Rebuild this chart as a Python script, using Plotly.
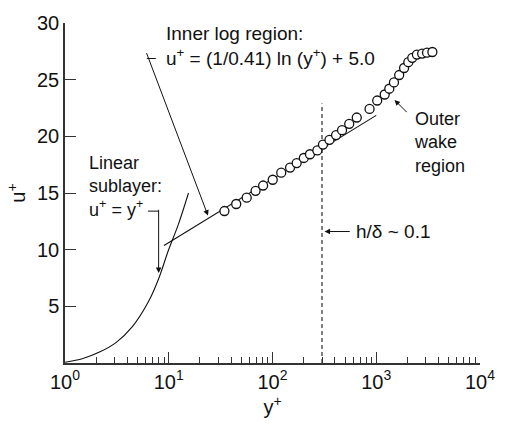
import plotly.graph_objects as go

# ---- data ----
data_yplus = [34.4, 44.7, 56.4, 68.7, 81.2, 100.5, 121.4, 147.7, 171, 200.5, 229.7,
              270.6, 306.5, 354, 410, 468, 549, 649, 862, 1021, 1206, 1336, 1481,
              1663, 1855, 2038, 2224, 2465, 2768, 3088, 3475]
data_uplus = [13.41, 14.03, 14.59, 15.19, 15.66, 16.17, 16.79, 17.24, 17.64, 18.09, 18.42,
              18.76, 19.27, 19.69, 20.11, 20.54, 21.10, 21.66, 22.42, 23.16, 23.69, 24.20, 24.76,
              25.41, 26.03, 26.54, 26.93, 27.21, 27.30, 27.38, 27.44]

# linear sublayer curve (u+ = y+), as drawn in the picture
sub_yplus = [1.0, 1.49, 2.15, 3.10, 4.46, 6.42, 7.99, 9.95, 12.38, 15.5]
sub_uplus = [0.06, 0.40, 0.96, 1.80, 3.21, 5.47, 7.44, 9.97, 12.23, 15.0]

# inner log law (straight on log axis) end points
log_yplus = [9.0, 1000.0]
log_uplus = [10.36, 21.85]

# h/delta ~ 0.1 marker
h_yplus = [300, 300]
h_uplus = [0, 22.9]

xtick_vals = [1, 10, 100, 1000, 10000]
xtick_text = ["10<sup>0</sup>", "10<sup>1</sup>", "10<sup>2</sup>", "10<sup>3</sup>", "10<sup>4</sup>"]
ytick_vals = [5, 10, 15, 20, 25, 30]
minor_vals = [m * d for d in [1, 10, 100, 1000] for m in range(2, 10)]

FONT = "Arial, Liberation Sans, sans-serif"
INK = "#111111"
AX = "#333333"

fig = go.Figure()
fig.add_trace(go.Scatter(x=sub_yplus, y=sub_uplus, mode="lines", line_shape="spline",
                         line=dict(color=INK, width=1.1), hoverinfo="skip"))
fig.add_trace(go.Scatter(x=log_yplus, y=log_uplus, mode="lines",
                         line=dict(color=INK, width=1.1), hoverinfo="skip"))
fig.add_trace(go.Scatter(x=h_yplus, y=h_uplus, mode="lines",
                         line=dict(color="#000000", width=1, dash="4px,3px"), hoverinfo="skip"))
fig.add_trace(go.Scatter(x=data_yplus, y=data_uplus, mode="markers",
                         marker=dict(symbol="circle", size=9, color="white",
                                     line=dict(color=INK, width=1.3))))

# leader stubs
fig.add_trace(go.Scatter(x=[6.15, 7.5], y=[26.87, 26.87], mode="lines",
                         line=dict(color=INK, width=1), hoverinfo="skip"))
fig.add_trace(go.Scatter(x=[6.3, 7.99], y=[13.4, 13.4], mode="lines",
                         line=dict(color=INK, width=1), hoverinfo="skip"))

tf = dict(family=FONT, size=19, color=INK)
ann = [
    dict(x=0.950, y=27.93, xanchor="left", yanchor="middle", showarrow=False, align="left",
         text="Inner log region:<br>u<sup>+</sup> = (1/0.41) ln (y<sup>+</sup>) + 5.0", font=tf),
    dict(x=1.378, y=13.01, ax=-62, ay=-164, text="", showarrow=True,
         arrowhead=2, arrowsize=1.1, arrowwidth=1, arrowcolor=INK),
    dict(x=0.209, y=15.55, xanchor="left", yanchor="middle", showarrow=False, align="left",
         text="Linear<br>sublayer:<br>u<sup>+</sup> = y<sup>+</sup>", font=dict(family=FONT, size=18, color=INK)),
    dict(x=0.9026, y=7.94, ax=0, ay=-64.7, text="", showarrow=True,
         arrowhead=2, arrowsize=1.1, arrowwidth=1, arrowcolor=INK),
    dict(x=2.502, y=11.6, ax=26.7, ay=0, text="", showarrow=True,
         arrowhead=2, arrowsize=1.1, arrowwidth=1, arrowcolor=INK),
    dict(x=2.784, y=11.6, xanchor="left", yanchor="middle", showarrow=False,
         text="h/δ ~ 0.1", font=tf),
    dict(x=3.344, y=19.44, xanchor="left", yanchor="middle", showarrow=False, align="left",
         text="Outer<br>wake<br>region", font=dict(family=FONT, size=18, color=INK)),
    dict(x=3.176, y=23.21, ax=13.7, ay=13.7, text="", showarrow=True,
         arrowhead=2, arrowsize=1.1, arrowwidth=1, arrowcolor=INK),
]

fig.update_layout(
    width=507, height=427,
    margin=dict(l=65, r=21, t=13, b=59),
    paper_bgcolor="white", plot_bgcolor="white",
    showlegend=False,
    font=dict(family=FONT, color=INK),
    annotations=ann,
    xaxis=dict(type="log", range=[0, 4], tickvals=xtick_vals, ticktext=xtick_text,
               ticks="inside", ticklen=11, tickwidth=1, tickcolor=AX,
               showline=True, linecolor=AX, linewidth=1.5,
               showgrid=False, zeroline=False,
               tickfont=dict(family=FONT, size=20, color=INK),
               title=dict(text="y<sup>+</sup>", font=dict(family=FONT, size=20, color=INK), standoff=8),
               minor=dict(tickvals=minor_vals, ticks="inside", ticklen=6, tickwidth=1,
                          tickcolor=AX, showgrid=False)),
    yaxis=dict(range=[0, 30], tickvals=ytick_vals,
               ticks="inside", ticklen=11, tickwidth=1, tickcolor=AX,
               showline=True, linecolor=AX, linewidth=1.5,
               showgrid=False, zeroline=False,
               tickfont=dict(family=FONT, size=20, color=INK),
               title=dict(text="u<sup>+</sup>", font=dict(family=FONT, size=20, color=INK), standoff=6)),
)

fig.write_html("out.html")
